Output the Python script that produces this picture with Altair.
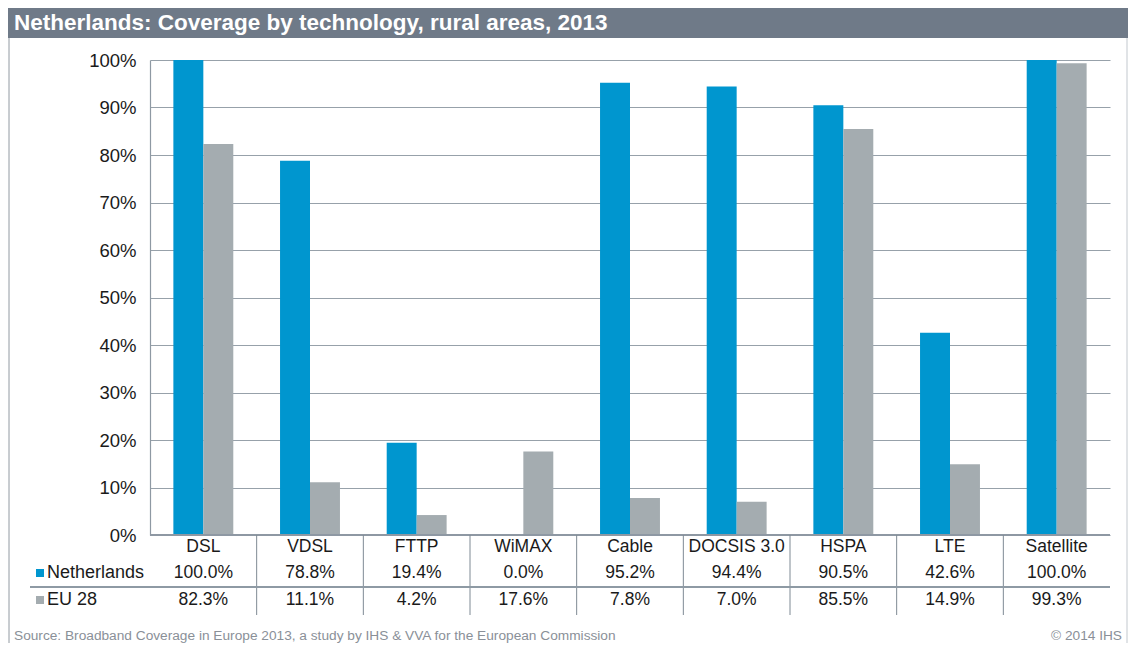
import altair as alt
import pandas as pd

categories = ["DSL", "VDSL", "FTTP", "WiMAX", "Cable", "DOCSIS 3.0", "HSPA", "LTE", "Satellite"]
series = ["Netherlands", "EU 28"]
netherlands = [100.0, 78.8, 19.4, 0.0, 95.2, 94.4, 90.5, 42.6, 100.0]
eu28 = [82.3, 11.1, 4.2, 17.6, 7.8, 7.0, 85.5, 14.9, 99.3]
y_ticks = [0, 10, 20, 30, 40, 50, 60, 70, 80, 90, 100]

title_text = "Netherlands: Coverage by technology, rural areas, 2013"
source_text = "Source: Broadband Coverage in Europe 2013, a study by IHS & VVA for the European Commission"
copyright_text = "\u00a9 2014 IHS"

BLUE = "#0096CF"
GREY = "#A4ACB0"
W, H = 960, 475
FONT = "Liberation Sans"
FS = 17.5

rows = []
for i, c in enumerate(categories):
    rows.append({"cat": c, "series": "Netherlands", "value": netherlands[i],
                 "label": f"{netherlands[i]:.1f}%", "order": 0})
    rows.append({"cat": c, "series": "EU 28", "value": eu28[i],
                 "label": f"{eu28[i]:.1f}%", "order": 1})
df = pd.DataFrame(rows)
cat_df = pd.DataFrame({"cat": categories})
div_df = pd.DataFrame({"cat": categories[1:]})

xscale = alt.Scale(domain=categories, paddingInner=0, paddingOuter=0)
xenc = alt.X("cat:N", scale=xscale, axis=None, sort=categories)

bars = alt.Chart(df).mark_bar(clip=False).encode(
    x=xenc,
    xOffset=alt.XOffset("series:N", sort=series,
                        scale=alt.Scale(domain=series, paddingInner=0, paddingOuter=0.78)),
    y=alt.Y("value:Q", scale=alt.Scale(domain=[0, 100], nice=False),
            axis=alt.Axis(values=y_ticks, labelExpr="datum.value + '%'",
                          labelFont=FONT, labelFontSize=18.5, labelColor="#1a1a1a",
                          labelPadding=14, ticks=False, domain=True,
                          domainColor="#8E99A3", domainWidth=1.2,
                          grid=True, gridColor="#97A1AA", gridWidth=1, title=None)),
    color=alt.Color("series:N", scale=alt.Scale(domain=series, range=[BLUE, GREY]), legend=None),
)

# bottom axis line
base_line = alt.Chart(cat_df).mark_rule(color="#8E99A3", strokeWidth=1.5).encode(
    x=alt.value(0), x2=alt.value(W), y=alt.value(H))

cat_labels = alt.Chart(cat_df).mark_text(font=FONT, fontSize=FS, color="#1a1a1a", baseline="middle").encode(
    x=xenc, y=alt.value(H + 12), text="cat:N")

nl_labels = alt.Chart(df[df.series == "Netherlands"]).mark_text(
    font=FONT, fontSize=FS, color="#1a1a1a", baseline="middle").encode(
    x=xenc, y=alt.value(H + 38), text="label:N")

eu_labels = alt.Chart(df[df.series == "EU 28"]).mark_text(
    font=FONT, fontSize=FS, color="#1a1a1a", baseline="middle").encode(
    x=xenc, y=alt.value(H + 65), text="label:N")

dividers = alt.Chart(div_df).mark_rule(color="#7F8A94", strokeWidth=1).encode(
    x=alt.X("cat:N", scale=xscale, axis=None, sort=categories, bandPosition=0),
    y=alt.value(H), y2=alt.value(H + 80))

row_line = alt.Chart(cat_df).mark_rule(color="#8E99A3", strokeWidth=1.2).encode(
    x=alt.value(-120), x2=alt.value(W), y=alt.value(H + 52))

leg_df = pd.DataFrame({"series": series, "ypos": [H + 38, H + 65]})
leg_sq = alt.Chart(leg_df).mark_square(size=64, opacity=1).encode(
    x=alt.value(-110), y=alt.Y("ypos:Q", scale=None),
    color=alt.Color("series:N", scale=alt.Scale(domain=series, range=[BLUE, GREY]), legend=None))
leg_txt = alt.Chart(leg_df).mark_text(font=FONT, fontSize=18, color="#1a1a1a", align="left",
                                      baseline="middle").encode(
    x=alt.value(-103), y=alt.Y("ypos:Q", scale=None), text="series:N")

title_bar = alt.Chart(cat_df).mark_rect(color="#6F7A88").encode(
    x=alt.value(-142), x2=alt.value(W + 18), y=alt.value(-52), y2=alt.value(-22))
title_df = pd.DataFrame({"t": [title_text]})
title = alt.Chart(title_df).mark_text(font=FONT, fontSize=22.5, fontWeight="bold", color="white",
                                      align="left", baseline="middle").encode(
    x=alt.value(-136), y=alt.value(-37), text="t:N")

frame_l = alt.Chart(cat_df).mark_rule(color="#C8CCD0", strokeWidth=1).encode(
    x=alt.value(-141), y=alt.value(-22), y2=alt.value(H + 110))
frame_r = alt.Chart(cat_df).mark_rule(color="#E0E3E6", strokeWidth=1).encode(
    x=alt.value(W + 17), y=alt.value(-22), y2=alt.value(H + 110))

foot_df = pd.DataFrame({"s": [source_text], "c": [copyright_text]})
source = alt.Chart(foot_df).mark_text(font=FONT, fontSize=13.7, color="#8A9098", align="left",
                                      baseline="middle").encode(
    x=alt.value(-136), y=alt.value(H + 101), text="s:N")
copyright = alt.Chart(foot_df).mark_text(font=FONT, fontSize=13.7, color="#8A9098", align="right",
                                         baseline="middle").encode(
    x=alt.value(W + 12), y=alt.value(H + 101), text="c:N")

chart = alt.layer(
    title_bar, title, frame_l, frame_r, bars, base_line, dividers, row_line,
    cat_labels, nl_labels, eu_labels, leg_sq, leg_txt, source, copyright
).properties(
    width=W, height=H,
    autosize=alt.AutoSizeParams(type="none"),
    padding={"left": 142, "top": 52, "right": 18, "bottom": 108},
).configure_view(stroke=None).configure_axis(labelFont=FONT)

chart.save("out.html", embed_options={"renderer": "svg", "actions": False})
